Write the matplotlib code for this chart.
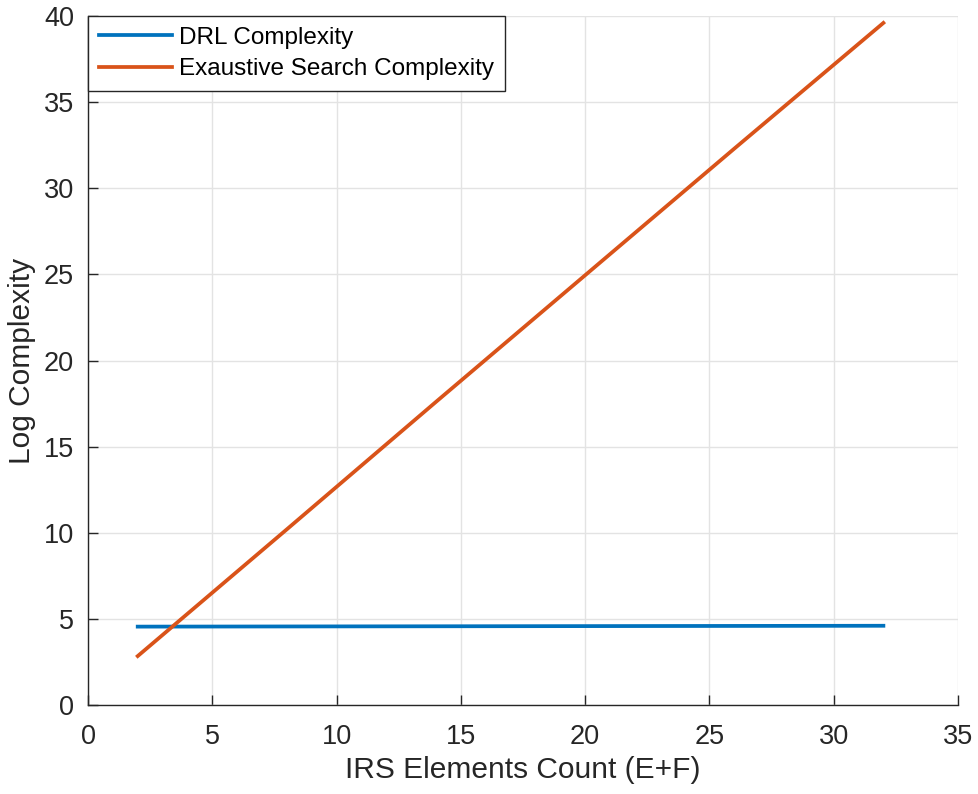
import numpy as np
import matplotlib.pyplot as plt

# values
irs_count = [2, 8, 14, 20, 26, 32]
drl_complexity = [4.55, 4.56, 4.57, 4.58, 4.59, 4.60]
exhaustive_complexity = [2.84, 10.2, 17.6, 24.95, 32.3, 39.6]

plt.rcParams['font.family'] = ['Liberation Sans', 'DejaVu Sans']

fig = plt.figure(figsize=(9.79, 7.94), dpi=100)
ax = fig.add_axes([0.0899, 0.1121, 0.8886, 0.8677])

ax.plot(irs_count, drl_complexity, color='#0072BD', lw=2.7, label='DRL Complexity')
ax.plot(irs_count, exhaustive_complexity, color='#D95319', lw=2.7, label='Exaustive Search Complexity')

ax.set_xlim(0, 35)
ax.set_ylim(0, 40)
ax.set_xticks(np.arange(0, 36, 5))
ax.set_yticks(np.arange(0, 41, 5))
ax.grid(True, color='#e3e3e3', lw=1.0)
ax.set_axisbelow(True)

# matlab style: box off, ticks inside
for s in ['top', 'right']:
    ax.spines[s].set_visible(False)
for s in ['left', 'bottom']:
    ax.spines[s].set_color('#262626')
    ax.spines[s].set_linewidth(1.0)
ax.tick_params(direction='in', length=7, width=1.0, colors='#262626', labelsize=19.5)
ax.tick_params(axis='x', pad=14)
ax.tick_params(axis='y', pad=10)

ax.set_xlabel('IRS Elements Count (E+F)', fontsize=21.5, color='#262626', labelpad=4)
ax.set_ylabel('Log Complexity', fontsize=21.5, color='#262626', labelpad=6)

leg = ax.legend(loc='upper left', fontsize=17.5, fancybox=False, framealpha=1,
                edgecolor='#262626', borderaxespad=0, handlelength=3.0,
                handletextpad=0.3, borderpad=0.45, labelspacing=0.38)
leg.get_frame().set_linewidth(1.0)

fig.savefig('out.png', dpi=100)
